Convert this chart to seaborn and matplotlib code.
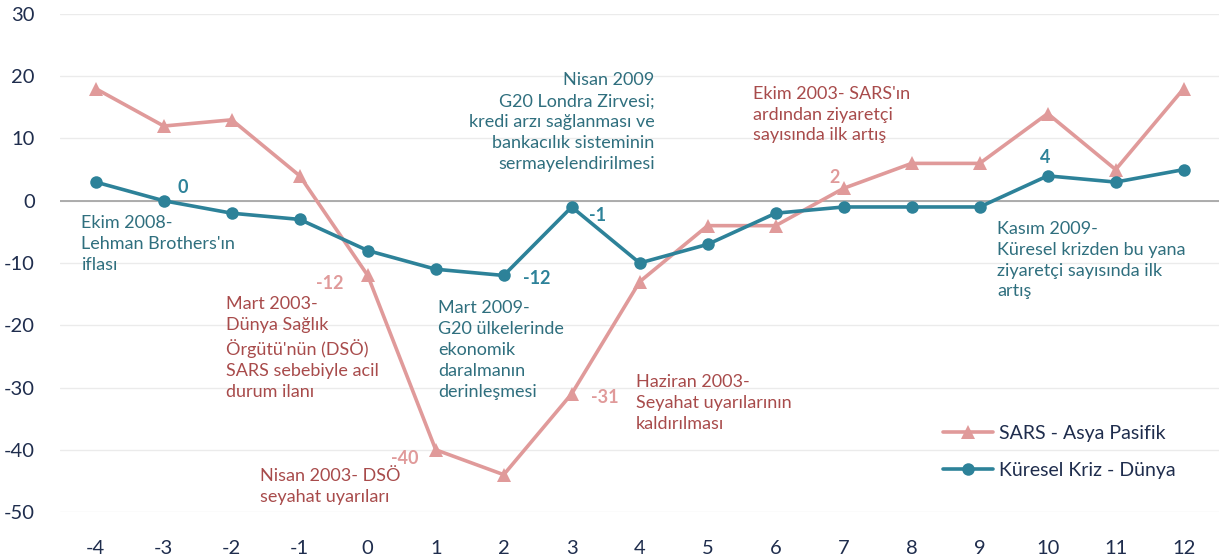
import numpy as np
import pandas as pd
import matplotlib
matplotlib.use("Agg")
import matplotlib.pyplot as plt
import seaborn as sns

# months relative to the crisis start
months = [-4, -3, -2, -1, 0, 1, 2, 3, 4, 5, 6, 7, 8, 9, 10, 11, 12]
sars_asia = [18, 12, 13, 4, -12, -40, -44, -31, -13, -4, -4, 2, 6, 6, 14, 5, 18]
crisis_world = [3, 0, -2, -3, -8, -11, -12, -1, -10, -7, -2, -1, -1, -1, 4, 3, 5]

series_names = ["SARS - Asya Pasifik", "Küresel Kriz - Dünya"]
y_ticks = [-50, -40, -30, -20, -10, 0, 10, 20, 30]

PINK = "#E09A9A"
TEAL = "#2D8299"
RED_TXT = "#A84B4B"
TEAL_TXT = "#2F6F7E"
NAVY = "#1F2D4D"

df = pd.DataFrame({
    "ay": months * 2,
    "deger": sars_asia + crisis_world,
    "seri": [series_names[0]] * len(months) + [series_names[1]] * len(months),
})

sns.set_style("white")
plt.rcParams['font.family'] = ['Lato', 'DejaVu Sans']
plt.rcParams['axes.unicode_minus'] = False

fig = plt.figure(figsize=(12.19, 5.59), dpi=100)
ax = fig.add_axes([0.049, 0.084, 0.951, 0.891])

# grid
for yv in y_ticks:
    ax.axhline(yv, color="#EBEBEB", lw=1, zorder=0)
ax.axhline(0, color="#A6A6A6", lw=1.3, zorder=1)

sns.lineplot(data=df[df.seri == series_names[0]], x="ay", y="deger", color=PINK,
             marker="^", markersize=10, markeredgewidth=0, lw=2.6, ax=ax,
             label=series_names[0], zorder=3)
sns.lineplot(data=df[df.seri == series_names[1]], x="ay", y="deger", color=TEAL,
             marker="o", markersize=9, markeredgewidth=0, lw=2.6, ax=ax,
             label=series_names[1], zorder=4)

ax.set_xlim(-4.53, 12.52)
ax.set_ylim(-50, 30)
ax.set_xticks(months)
ax.set_yticks(y_ticks)
ax.tick_params(length=0, labelsize=14.5, labelcolor=NAVY)
ax.tick_params(axis="x", pad=20)
ax.tick_params(axis="y", pad=18)
ax.set_xlabel("")
ax.set_ylabel("")
for s in ax.spines.values():
    s.set_visible(False)

# value labels
vals = [(-2.72, 2.1, "0", TEAL), (-0.56, -13.3, "-12", PINK), (0.54, -41.4, "-40", PINK),
        (2.49, -12.5, "-12", TEAL), (3.49, -31.6, "-31", PINK), (3.38, -2.4, "-1", TEAL),
        (6.87, 3.7, "2", PINK), (9.97, 6.9, "4", TEAL)]
for x, y, t, c in vals:
    ax.text(x, y, t, color=c, fontsize=13, fontweight="bold", ha="center", va="center")

notes = [
    (-4.21, -2.25, "Ekim 2008-\nLehman Brothers'ın\niflası", TEAL_TXT, "left"),
    (-2.09, -15.3, "Mart 2003-\nDünya Sağlık\nÖrgütü'nün (DSÖ)\nSARS sebebiyle acil\ndurum ilanı", RED_TXT, "left"),
    (-1.59, -42.9, "Nisan 2003- DSÖ\nseyahat uyarıları", RED_TXT, "left"),
    (1.03, -15.9, "Mart 2009-\nG20 ülkelerinde\nekonomik\ndaralmanın\nderinleşmesi", TEAL_TXT, "left"),
    (3.94, -27.8, "Haziran 2003-\nSeyahat uyarılarının\nkaldırılması", RED_TXT, "left"),
    (4.22, 20.6, "Nisan 2009\nG20 Londra Zirvesi;\nkredi arzı sağlanması ve\nbankacılık sisteminin\nsermayelendirilmesi", TEAL_TXT, "right"),
    (5.66, 18.5, "Ekim 2003- SARS'ın\nardından ziyaretçi\nsayısında ilk artış", RED_TXT, "left"),
    (9.26, -3.2, "Kasım 2009-\nKüresel krizden bu yana\nziyaretçi sayısında ilk\nartış", TEAL_TXT, "left"),
]
for x, y, t, c, ha in notes:
    ax.text(x, y, t, color=c, fontsize=13, ha=ha, va="top", multialignment=ha,
            linespacing=1.38)

leg = ax.legend(loc="upper left", bbox_to_anchor=(0.755, 0.19), frameon=False,
                fontsize=14, handlelength=2.6, handletextpad=0.3, labelspacing=1.0,
                borderaxespad=0)
for txt in leg.get_texts():
    txt.set_color(NAVY)

fig.savefig("out.png", dpi=100)
